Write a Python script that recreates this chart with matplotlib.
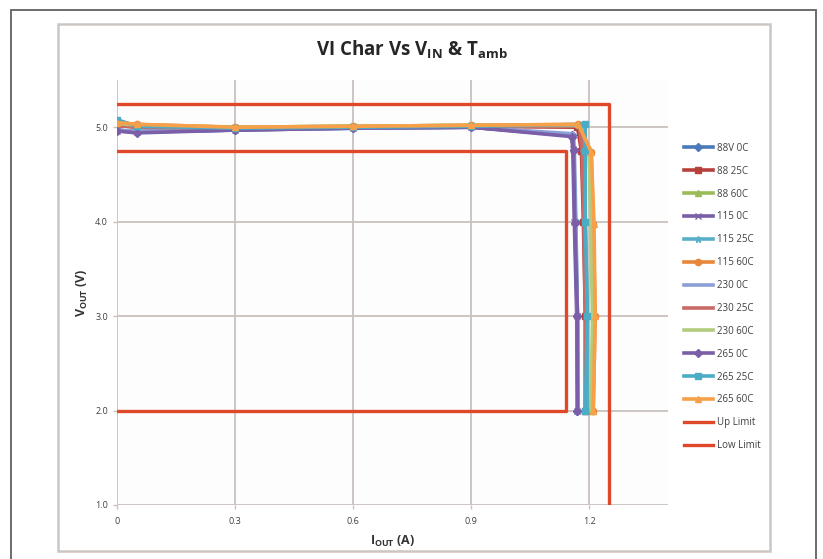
import matplotlib
matplotlib.use("Agg")
import matplotlib.pyplot as plt
from matplotlib.patches import Rectangle

plt.rcParams['font.family'] = ['Open Sans', 'DejaVu Sans']
plt.rcParams['mathtext.fontset'] = 'custom'
plt.rcParams['mathtext.rm'] = 'Open Sans'
plt.rcParams['mathtext.bf'] = 'Open Sans:bold'

# ---- data ----
labels = ["88V 0C", "88 25C", "88 60C", "115 0C", "115 25C", "115 60C",
          "230 0C", "230 25C", "230 60C", "265 0C", "265 25C", "265 60C"]

i_88_0 = [0, 0.05, 0.3, 0.6, 0.9, 1.155, 1.16, 1.165, 1.17, 1.17]
v_88_0 = [4.97, 4.95, 4.97, 4.99, 5.00, 4.92, 4.76, 4.00, 3.00, 2.00]
i_88_25 = [0, 0.05, 0.3, 0.6, 0.9, 1.17, 1.18, 1.185, 1.19, 1.19]
v_88_25 = [5.02, 5.00, 4.99, 5.00, 5.01, 5.00, 4.75, 4.00, 3.00, 2.00]
i_88_60 = [0, 0.05, 0.3, 0.6, 0.9, 1.175, 1.2, 1.205, 1.21, 1.205]
v_88_60 = [5.04, 5.02, 5.00, 5.01, 5.02, 5.02, 4.75, 4.00, 3.00, 2.00]
i_115_0 = [0, 0.05, 0.3, 0.6, 0.9, 1.155, 1.158, 1.162, 1.168, 1.17]
v_115_0 = [4.96, 4.95, 4.97, 4.99, 5.00, 4.91, 4.77, 4.00, 3.00, 2.00]
i_115_25 = [0, 0.05, 0.3, 0.6, 0.9, 1.18, 1.185, 1.19, 1.195, 1.195]
v_115_25 = [5.07, 5.01, 4.99, 5.00, 5.01, 5.02, 4.75, 4.00, 3.00, 2.00]
i_115_60 = [0, 0.05, 0.3, 0.6, 0.9, 1.172, 1.205, 1.21, 1.215, 1.21]
v_115_60 = [5.05, 5.03, 5.00, 5.01, 5.02, 5.03, 4.74, 3.98, 3.00, 2.00]
i_230_0 = [0, 0.05, 0.3, 0.6, 0.9, 1.16, 1.162, 1.166, 1.17, 1.172]
v_230_0 = [4.97, 4.96, 4.98, 4.99, 5.00, 4.93, 4.76, 4.00, 3.00, 2.00]
i_230_25 = [0, 0.05, 0.3, 0.6, 0.9, 1.175, 1.182, 1.186, 1.19, 1.19]
v_230_25 = [5.02, 5.00, 4.99, 5.00, 5.01, 5.01, 4.75, 4.00, 3.00, 2.00]
i_230_60 = [0, 0.05, 0.3, 0.6, 0.9, 1.178, 1.2, 1.204, 1.208, 1.205]
v_230_60 = [5.04, 5.02, 5.00, 5.01, 5.02, 5.02, 4.75, 4.00, 3.00, 2.00]
i_265_0 = [0, 0.05, 0.3, 0.6, 0.9, 1.157, 1.16, 1.163, 1.17, 1.17]
v_265_0 = [4.96, 4.94, 4.97, 4.99, 5.00, 4.90, 4.76, 3.99, 3.00, 2.00]
i_265_25 = [0, 0.05, 0.3, 0.6, 0.9, 1.19, 1.19, 1.19, 1.195, 1.19]
v_265_25 = [5.08, 5.01, 4.99, 5.00, 5.01, 5.03, 4.75, 4.00, 3.00, 2.00]
i_265_60 = [0, 0.05, 0.3, 0.6, 0.9, 1.172, 1.205, 1.212, 1.215, 1.21]
v_265_60 = [5.05, 5.03, 5.00, 5.01, 5.02, 5.03, 4.74, 3.98, 3.00, 2.00]

up_limit_i = [0, 1.25, 1.25]
up_limit_v = [5.25, 5.25, 1.0]
low_limit_i = [0, 1.14, 1.14, 0]
low_limit_v = [4.75, 4.75, 2.0, 2.0]

x_ticks = [0, 0.3, 0.6, 0.9, 1.2]
x_tick_labels = ["0", "0.3", "0.6", "0.9", "1.2"]
y_ticks = [1.0, 2.0, 3.0, 4.0, 5.0]
y_tick_labels = ["1.0", "2.0", "3.0", "4.0", "5.0"]

series_i = [i_88_0, i_88_25, i_88_60, i_115_0, i_115_25, i_115_60,
            i_230_0, i_230_25, i_230_60, i_265_0, i_265_25, i_265_60]
series_v = [v_88_0, v_88_25, v_88_60, v_115_0, v_115_25, v_115_60,
            v_230_0, v_230_25, v_230_60, v_265_0, v_265_25, v_265_60]

colors = ["#4a7ab8", "#b8403c", "#9bbb59", "#7a5ea6", "#5aafc8", "#e8873a",
          "#8a9fd6", "#c86a66", "#b2cc7e", "#7b5ea8", "#4bacc6", "#f7a04a"]
markers = ["D", "s", "^", "x", "*", "o", "None", "None", "None", "D", "s", "^"]
limit_color = "#e0482a"

# ---- figure ----
fig = plt.figure(figsize=(8.23, 5.59), dpi=100)
fig.patch.set_facecolor("white")

fig.add_artist(Rectangle((11/823, -0.02), (816-11)/823, (559-10)/559 + 0.02,
                         transform=fig.transFigure, fill=False,
                         edgecolor="#606060", linewidth=1.3))
fig.add_artist(Rectangle((58/823, 1-551/559), (770-58)/823, (551-24)/559,
                         transform=fig.transFigure, fill=False,
                         edgecolor="#cbc6c2", linewidth=1.8))

ax = fig.add_axes([117/823, 1-505/559, (668-117)/823, (505-80)/559])
ax.set_facecolor("#fdfdfd")

for iv, vv, c, m, lab in zip(series_i, series_v, colors, markers, labels):
    ax.plot(iv, vv, color=c, marker=m, markersize=4.5, linewidth=2.6,
            markeredgewidth=1.0, label=lab, zorder=3)
ax.plot(up_limit_i, up_limit_v, color=limit_color, linewidth=2.4,
        label="Up Limit", zorder=4)
ax.plot(low_limit_i, low_limit_v, color=limit_color, linewidth=2.4,
        label="Low Limit", zorder=4)

ax.set_xlim(0, 1.4)
ax.set_ylim(1.0, 5.5)
ax.set_xticks(x_ticks)
ax.set_xticklabels(x_tick_labels)
ax.set_yticks(y_ticks)
ax.set_yticklabels(y_tick_labels)
for s in ax.spines.values():
    s.set_visible(False)
ax.grid(True, color="#c8c1bd", linewidth=1.3, zorder=0)
ax.set_axisbelow(True)
ax.tick_params(axis="both", labelsize=6.5, colors="#c8c1bd", labelcolor="#404040",
               length=3, width=1)
ax.tick_params(axis="x", pad=6)

ax.set_xlabel(r"I$_{\mathbf{OUT}}$ (A)", fontsize=9, fontweight="bold",
              color="#333333", labelpad=5)
ax.set_ylabel(r"V$_{\mathbf{OUT}}$ (V)", fontsize=9, fontweight="bold",
              color="#333333", labelpad=4)

fig.text(0.5, 1-50/559, r"VI Char Vs V$_{\mathbf{IN}}$ & T$_{\mathbf{amb}}$",
         ha="center", va="center", fontsize=13.5, fontweight="bold", color="#262626")

leg = fig.legend(loc="upper left", bbox_to_anchor=(680/823, 1-139/559),
                 frameon=False, fontsize=7, labelspacing=1.22,
                 handlelength=3.0, handletextpad=0.4, borderaxespad=0)
for t in leg.get_texts():
    t.set_color("#404040")

fig.savefig("out.png", dpi=100)
